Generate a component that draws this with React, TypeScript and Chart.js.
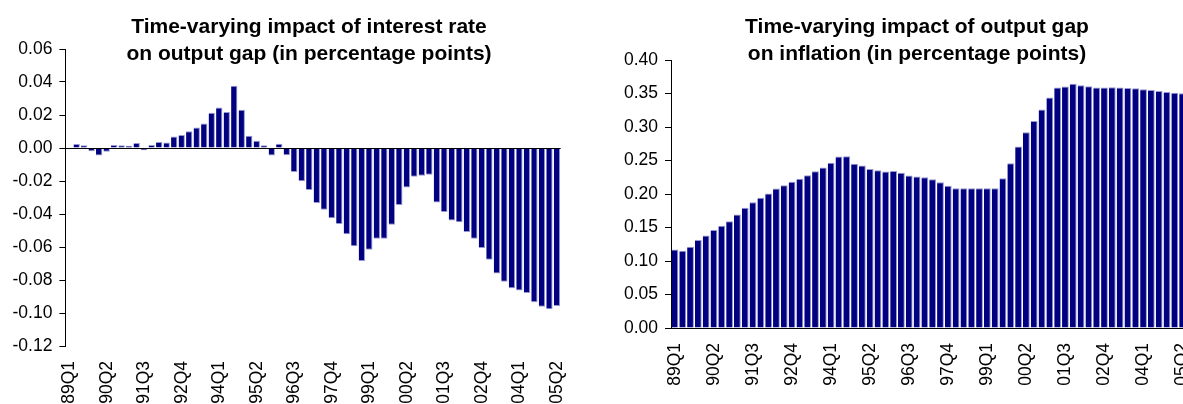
import Chart from 'chart.js/auto';
import { useEffect, useRef } from 'react';

const FONT = "'Liberation Sans', Arial, sans-serif";
const NAVY = '#000080';
const EDGE = 'rgb(150, 150, 210)';

// quarters 89Q1 .. 05Q2
const quarters: string[] = [];
for (let y = 1989; y <= 2005; y++) {
  for (let q = 1; q <= 4; q++) {
    if (y === 2005 && q > 2) break;
    quarters.push(`${String(y % 100).padStart(2, '0')}Q${q}`);
  }
}

// impact of interest rate on output gap (89Q1 has no value)
const rateOnGap: (number | null)[] = [
  null, 0.0024, 0.0016, -0.002, -0.0046, -0.0022, 0.0018, 0.0016, 0.0014, 0.003,
  -0.0014, 0.0018, 0.0036, 0.0034, 0.0069, 0.0079, 0.0101, 0.0125, 0.0149, 0.0214,
  0.0246, 0.0218, 0.0378, 0.0232, 0.0075, 0.0044, 0.0016, -0.0046, 0.0026, -0.0044,
  -0.0145, -0.0202, -0.0255, -0.0333, -0.0374, -0.0426, -0.046, -0.0523, -0.0596, -0.0685,
  -0.0616, -0.055, -0.055, -0.0465, -0.0345, -0.024, -0.0174, -0.0168, -0.0162, -0.0331,
  -0.0388, -0.044, -0.045, -0.0509, -0.055, -0.0606, -0.0677, -0.076, -0.081, -0.085,
  -0.0863, -0.0879, -0.0935, -0.0962, -0.0978, -0.0958,
];

// impact of output gap on inflation
const gapOnInflation: number[] = [
  0.1173, 0.1153, 0.1212, 0.1312, 0.1381, 0.1461, 0.1525, 0.1595, 0.1694, 0.1794,
  0.1878, 0.1943, 0.2007, 0.2082, 0.2132, 0.2181, 0.2226, 0.2281, 0.234, 0.2395,
  0.2465, 0.2559, 0.2564, 0.245, 0.2425, 0.2375, 0.2355, 0.2335, 0.2345, 0.2316,
  0.2276, 0.2261, 0.2251, 0.2221, 0.2176, 0.2122, 0.2087, 0.2087, 0.2087, 0.2087,
  0.2087, 0.2085, 0.2236, 0.246, 0.2708, 0.2922, 0.3091, 0.326, 0.3439, 0.3588,
  0.3603, 0.3647, 0.3623, 0.3608, 0.3588, 0.3588, 0.3593, 0.3588, 0.3583, 0.3578,
  0.3563, 0.3553, 0.3538, 0.3523, 0.3513, 0.3503,
];

const leftTitle = ['Time-varying impact of interest rate', 'on output gap (in percentage points)'];
const rightTitle = ['Time-varying impact of output gap', 'on inflation (in percentage points)'];

type PanelProps = {
  data: (number | null)[];
  left: number;
  width: number;
  height: number;
  plotTop: number;
  plotBottom: number;
  plotLeft: number;
  plotRight: number;
  yMin: number;
  yMax: number;
  yStep: number;
  barFraction: number;
  zeroLine: boolean;
};

function BarPanel(p: PanelProps) {
  const canvasRef = useRef<HTMLCanvasElement | null>(null);
  const chartRef = useRef<Chart | null>(null);

  useEffect(() => {
    if (!canvasRef.current) return;
    if (chartRef.current) {
      chartRef.current.destroy();
      chartRef.current = null;
    }

    const tickFont = { family: FONT, size: 17.5 };

    const chart = new Chart(canvasRef.current, {
      type: 'bar',
      data: {
        labels: quarters,
        datasets: [
          {
            data: p.data,
            backgroundColor: NAVY,
            borderColor: EDGE,
            borderWidth: { top: 1, right: 1, bottom: 1, left: 0 },
            borderSkipped: 'start',
            categoryPercentage: 1,
            barPercentage: p.barFraction,
          },
        ],
      },
      options: {
        responsive: true,
        maintainAspectRatio: false,
        animation: false,
        layout: {
          padding: { top: p.plotTop, right: p.width - p.plotRight, bottom: 0, left: 0 },
        },
        plugins: {
          legend: { display: false },
          tooltip: { enabled: false },
          title: { display: false },
        },
        scales: {
          x: {
            offset: true,
            grid: { display: false, drawTicks: false },
            border: { display: !p.zeroLine, color: '#000', width: 1 },
            ticks: {
              autoSkip: false,
              minRotation: 90,
              maxRotation: 90,
              padding: 15,
              color: '#000',
              font: tickFont,
              callback: (_v: any, i: number) => (i % 5 === 0 ? quarters[i] : ''),
            },
            afterFit: (scale: any) => {
              scale.height = p.height - p.plotBottom;
            },
          },
          y: {
            min: p.yMin,
            max: p.yMax,
            grid: {
              display: true,
              drawOnChartArea: p.zeroLine,
              z: 1,
              color: (ctx: any) =>
                p.zeroLine && Math.abs(ctx.tick.value) < 1e-9 ? '#000' : 'rgba(0,0,0,0)',
              tickColor: '#000',
              tickLength: 6,
              lineWidth: 1,
            },
            border: { display: true, color: '#000', width: 1, z: 2 },
            ticks: {
              stepSize: p.yStep,
              padding: 7,
              color: '#000',
              font: tickFont,
              callback: (v: any) => {
                const s = Number(v).toFixed(2);
                return s === '-0.00' ? '0.00' : s;
              },
            },
            afterFit: (scale: any) => {
              scale.width = p.plotLeft;
            },
          },
        },
      },
    } as any);
    chartRef.current = chart;

    return () => {
      if (chartRef.current) {
        chartRef.current.destroy();
        chartRef.current = null;
      }
    };
  }, []);

  return (
    <div style={{ position: 'absolute', left: p.left, top: 0, width: p.width, height: p.height }}>
      <canvas ref={canvasRef} />
    </div>
  );
}

function Title({ lines, center }: { lines: string[]; center: number }) {
  return (
    <div
      style={{
        position: 'absolute',
        left: center - 300,
        width: 600,
        top: 12,
        textAlign: 'center',
        fontFamily: FONT,
        fontWeight: 'bold',
        fontSize: 21,
        lineHeight: '27px',
        color: '#000',
      }}
    >
      {lines.map((l) => (
        <div key={l}>{l}</div>
      ))}
    </div>
  );
}

export default function App() {
  return (
    <div style={{ position: 'fixed', inset: 0, overflow: 'hidden', background: '#fff' }}>
      <BarPanel
        data={rateOnGap}
        left={0}
        width={600}
        height={420}
        plotTop={49}
        plotBottom={346}
        plotLeft={65.4}
        plotRight={560.7}
        yMin={-0.12}
        yMax={0.06}
        yStep={0.02}
        barFraction={0.84}
        zeroLine={true}
      />
      <BarPanel
        data={gapOnInflation}
        left={606}
        width={650}
        height={420}
        plotTop={60}
        plotBottom={328}
        plotLeft={65}
        plotRight={580.5}
        yMin={0}
        yMax={0.4}
        yStep={0.05}
        barFraction={0.87}
        zeroLine={false}
      />
      <Title lines={leftTitle} center={309} />
      <Title lines={rightTitle} center={917} />
    </div>
  );
}
